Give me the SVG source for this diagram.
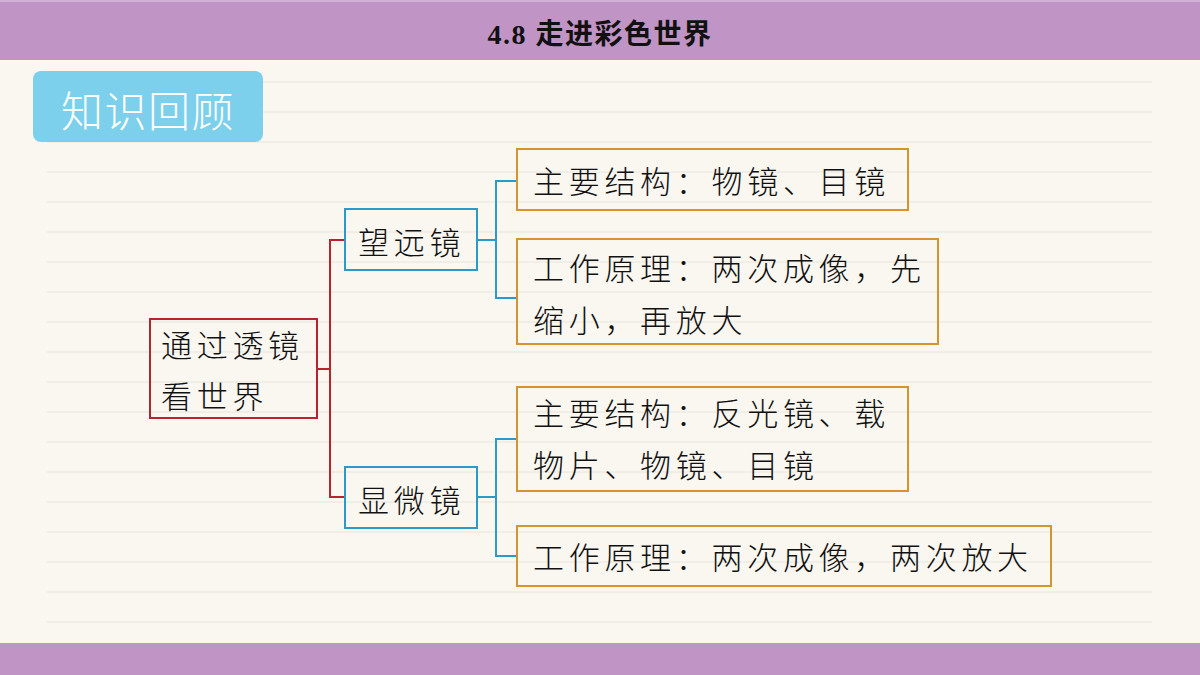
<svg xmlns="http://www.w3.org/2000/svg" width="1200" height="675" viewBox="0 0 1200 675">
<defs>
<style>
.rule{stroke:#e7e5dd;stroke-width:1.2}
.t{font-family:"Noto Sans CJK SC","Noto Sans CJK JP",sans-serif;font-size:31px;font-weight:300;fill:#111;letter-spacing:4.7px}
.root{fill:none;stroke:#b8232f;stroke-width:2}
.mid{fill:none;stroke:#2a9ac8;stroke-width:2}
.leaf{fill:none;stroke:#d4952f;stroke-width:2}
.cr{fill:none;stroke:#b8232f;stroke-width:2}
.cb{fill:none;stroke:#2a9ac8;stroke-width:2}
</style>
</defs>
<rect x="0" y="0" width="1200" height="675" fill="#f9f7f0"/>
<g id="rules">
<line class="rule" x1="47" y1="82" x2="1152" y2="82"/>
<line class="rule" x1="47" y1="112" x2="1152" y2="112"/>
<line class="rule" x1="47" y1="142" x2="1152" y2="142"/>
<line class="rule" x1="47" y1="172" x2="1152" y2="172"/>
<line class="rule" x1="47" y1="202" x2="1152" y2="202"/>
<line class="rule" x1="47" y1="232" x2="1152" y2="232"/>
<line class="rule" x1="47" y1="262" x2="1152" y2="262"/>
<line class="rule" x1="47" y1="292" x2="1152" y2="292"/>
<line class="rule" x1="47" y1="322" x2="1152" y2="322"/>
<line class="rule" x1="47" y1="352" x2="1152" y2="352"/>
<line class="rule" x1="47" y1="382" x2="1152" y2="382"/>
<line class="rule" x1="47" y1="412" x2="1152" y2="412"/>
<line class="rule" x1="47" y1="442" x2="1152" y2="442"/>
<line class="rule" x1="47" y1="472" x2="1152" y2="472"/>
<line class="rule" x1="47" y1="502" x2="1152" y2="502"/>
<line class="rule" x1="47" y1="532" x2="1152" y2="532"/>
<line class="rule" x1="47" y1="562" x2="1152" y2="562"/>
<line class="rule" x1="47" y1="592" x2="1152" y2="592"/>
<line class="rule" x1="47" y1="622" x2="1152" y2="622"/>
</g>
<g id="header">
<rect x="0" y="0" width="1200" height="60" fill="#c094c5"/>
<line x1="0" y1="1" x2="1200" y2="1" stroke="#d2b0d5" stroke-width="2"/>
<text x="600" y="44" text-anchor="middle" font-family="'Liberation Serif','Noto Sans CJK SC',serif" font-size="28" font-weight="bold" fill="#111" letter-spacing="1.5">4.8 走进彩色世界</text>
</g>
<rect x="0" y="643" width="1200" height="32" fill="#c094c5"/>
<g id="badge">
<rect x="33" y="71" width="230" height="71" rx="8" fill="#7dd0ec"/>
<text x="148" y="127" text-anchor="middle" font-family="'Noto Sans CJK SC',sans-serif" font-size="42" font-weight="300" fill="#ffffff" letter-spacing="1.5">知识回顾</text>
</g>
<g id="connectors">
<polyline class="cr" points="317,369 330,369"/>
<polyline class="cr" points="345,240 330,240 330,497 345,497"/>
<polyline class="cb" points="477,240 496,240"/>
<polyline class="cb" points="517,181 496,181 496,298 517,298"/>
<polyline class="cb" points="477,497 496,497"/>
<polyline class="cb" points="517,439 496,439 496,556 517,556"/>
</g>
<g id="root">
<rect class="root" x="150" y="319" width="167" height="99"/>
<text class="t" x="161" y="357">通过透镜</text>
<text class="t" x="161" y="408">看世界</text>
</g>
<g id="telescope">
<rect class="mid" x="345" y="209" width="132" height="61"/>
<text class="t" x="358" y="254">望远镜</text>
</g>
<g id="microscope">
<rect class="mid" x="345" y="467" width="132" height="61"/>
<text class="t" x="358" y="512">显微镜</text>
</g>
<g id="tele-structure">
<rect class="leaf" x="517" y="149" width="391" height="61"/>
<text class="t" x="533" y="193">主要结构：物镜、目镜</text>
</g>
<g id="tele-principle">
<rect class="leaf" x="517" y="239" width="421" height="105"/>
<text class="t" x="533" y="280">工作原理：两次成像，先</text>
<text class="t" x="533" y="332">缩小，再放大</text>
</g>
<g id="micro-structure">
<rect class="leaf" x="517" y="387" width="391" height="104"/>
<text class="t" x="533" y="425">主要结构：反光镜、载</text>
<text class="t" x="533" y="477">物片、物镜、目镜</text>
</g>
<g id="micro-principle">
<rect class="leaf" x="517" y="526" width="534" height="60"/>
<text class="t" x="533" y="569">工作原理：两次成像，两次放大</text>
</g>
</svg>
